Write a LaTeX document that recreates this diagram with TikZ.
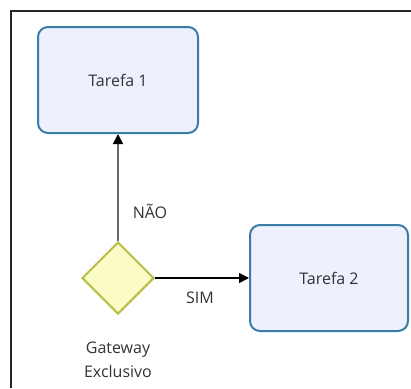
\documentclass[tikz,border=0pt]{standalone}
\usepackage{fontspec}
\setmainfont{Open Sans}
\usetikzlibrary{shapes.geometric,arrows.meta}
\definecolor{taskfill}{HTML}{EEF0FD}
\definecolor{taskline}{HTML}{3A7CA5}
\definecolor{gwfill}{HTML}{FBFBC6}
\definecolor{gwline}{HTML}{B5BE45}
\definecolor{flowgray}{HTML}{6A6A6A}
\begin{document}
\begin{tikzpicture}[x=1pt,y=-1pt,
  task/.style={draw=taskline, line width=2pt, fill=taskfill, rounded corners=10pt,
    minimum width=160pt, minimum height=106pt, font=\fontsize{16}{19}\selectfont, text=black!80},
  gateway/.style={diamond, draw=gwline, line width=2pt, fill=gwfill, aspect=1,
    minimum width=72pt, minimum height=72pt, inner sep=0pt},
  flow/.style={line width=1.5pt, -{Triangle[length=10pt,width=10pt,color=black]}},
  lbl/.style={font=\fontsize{16}{24}\selectfont, text=black!80}]
  \useasboundingbox (0,0) rectangle (411,388);
  % outer frame, open to the right and bottom
  \draw[line width=1.5pt, black!85] (11,388) -- (11,11) -- (411,11);

  \node[task] (t1) at (118,80) {Tarefa 1};
  \node[task, minimum width=158pt] (t2) at (329,278) {Tarefa 2};
  \node[gateway] (gw) at (118,278) {};

  \draw[flow, flowgray] (gw.north) -- (t1.south);
  \draw[flow, black] (gw.east) -- (t2.west);

  \node[lbl] (nao) at (150,211) {NÃO};
  \node[lbl] (sim) at (200,298) {SIM};
  \node[lbl, align=center] (gwlabel) at (118,360) {Gateway\\Exclusivo};
\end{tikzpicture}
\end{document}
